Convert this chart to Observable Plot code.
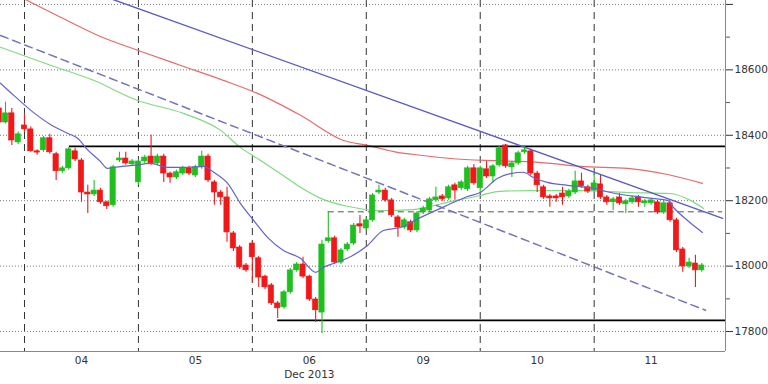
<!DOCTYPE html>
<html><head><meta charset="utf-8">
<script src="https://cdn.jsdelivr.net/npm/d3@7"></script>
<script src="https://cdn.jsdelivr.net/npm/@observablehq/plot@0.6"></script>
<style>
html,body{margin:0;padding:0;background:#fff;}
#chart{width:768px;height:384px;overflow:hidden;}
</style></head><body><div id="chart"></div>
<script>
// Hourly candles, index 0..111 (18 bars per session)
const opens  = [18482,18439,18467,18378,18430,18418,18351,18354,18391,18342,18290,18299,18351,18323,18225,18219,18231,18195,18186,18323,18329,18311,18256,18320,18335,18314,18335,18283,18271,18283,18299,18277,18302,18335,18256,18225,18210,18100,18057,18002,18069,18024,17968,17941,17886,17874,17920,17987,18005,17968,17898,17858,18076,18085,18011,18051,18069,18128,18115,18140,18225,18231,18201,18149,18118,18134,18109,18164,18170,18201,18213,18207,18247,18238,18235,18299,18238,18296,18274,18308,18369,18302,18314,18348,18351,18283,18241,18213,18213,18222,18213,18225,18259,18241,18231,18250,18210,18195,18210,18189,18195,18210,18192,18192,18195,18164,18192,18140,18051,17999,18008,17987];
const highs  = [18495,18501,18482,18410,18467,18425,18356,18396,18403,18348,18305,18363,18360,18329,18247,18262,18238,18198,18308,18348,18348,18326,18326,18339,18400,18342,18342,18287,18293,18305,18305,18308,18351,18342,18262,18231,18241,18106,18063,18008,18076,18030,17972,17947,17892,17926,17993,18011,18027,17972,17904,18079,18167,18091,18054,18072,18130,18155,18146,18222,18247,18238,18207,18155,18146,18140,18167,18183,18210,18241,18219,18247,18253,18262,18305,18311,18305,18320,18311,18369,18372,18320,18351,18369,18357,18290,18247,18219,18219,18241,18235,18290,18284,18247,18281,18278,18216,18210,18222,18204,18213,18216,18204,18207,18201,18198,18198,18146,18057,18024,18033,18008];
const lows   = [18430,18435,18369,18372,18409,18348,18339,18348,18342,18262,18284,18293,18320,18195,18161,18213,18189,18173,18180,18317,18308,18305,18247,18314,18308,18308,18256,18253,18265,18277,18277,18271,18296,18256,18186,18186,18073,18045,17990,17981,17950,17935,17928,17880,17840,17868,17914,17981,17962,17892,17828,17794,18070,18005,18005,18045,18063,18100,18109,18134,18219,18195,18149,18088,18112,18103,18103,18158,18164,18195,18198,18201,18201,18231,18228,18247,18225,18268,18253,18302,18299,18271,18308,18342,18277,18225,18204,18180,18195,18186,18207,18219,18238,18222,18225,18204,18186,18170,18186,18161,18189,18180,18180,18186,18158,18158,18134,18042,17981,17993,17935,17981];
const closes = [18439,18467,18384,18403,18418,18351,18347,18391,18348,18290,18299,18357,18326,18225,18219,18231,18195,18183,18302,18329,18314,18320,18320,18332,18314,18335,18283,18271,18287,18299,18283,18302,18335,18262,18225,18210,18103,18054,17996,17987,18027,17965,17935,17886,17871,17920,17987,18005,17968,17898,17865,18066,18085,18011,18048,18066,18124,18121,18140,18216,18231,18201,18155,18118,18140,18109,18161,18176,18204,18210,18204,18241,18231,18256,18299,18253,18299,18274,18305,18360,18305,18314,18345,18354,18283,18247,18210,18207,18207,18210,18228,18259,18244,18228,18253,18210,18195,18204,18192,18198,18207,18195,18198,18201,18164,18192,18140,18048,17999,18011,17987,18002];

// Session boundaries (first bar of each day) and labels
const dayStarts  = [4, 22, 40, 58, 76, 94];
const dayCenters = [13, 31, 49, 67, 85, 103];
const dayLabels  = ["04", "05", "06", "09", "10", "11"];
const monthLabel = "Dec 2013";
const monthAt    = 49;

// Moving averages (bar index, value)
const maBlueIdx = [0.2,2.3,5.4,8.1,10.8,12.4,13.9,16,17.1,18.1,21.2,23.9,26.6,29.7,32.3,33.9,36.1,38.1,40.2,42.4,44.9,47.6,50,51.2,52.8,55,58.2,60.7,63.4,66.6,70.8,74,76,78.7,80.8,82.8,84.4,86.6,89.8,93.9,96.6,101.8,105.6,106.5,108.7,111.1];
const maBlueVal = [18559,18522,18470,18433,18406,18391,18357,18320,18299,18302,18308,18314,18302,18302,18305,18287,18253,18192,18140,18088,18048,18024,17981,17996,18008,18024,18063,18109,18118,18149,18186,18213,18225,18268,18283,18287,18271,18256,18247,18238,18225,18210,18201,18180,18140,18103];
const maGreenIdx = [0.2,8.1,14.9,21.8,29.1,35,38.1,41.3,44.4,47.6,50.8,55,60.2,65.4,70.8,76,78.7,83.9,91.8,99.3,106,109.2,111.3];
const maGreenVal = [18669,18614,18568,18507,18467,18415,18363,18323,18283,18241,18207,18183,18170,18173,18195,18216,18228,18231,18231,18225,18222,18201,18176];
const maRedIdx = [3.4,9.7,16,22.3,28.6,35.4,40.8,47.6,54.4,58.2,62.9,66.6,71.3,76.8,82.4,87.1,91.8,99.3,105.6,111.1];
const maRedVal = [18822,18761,18702,18657,18614,18568,18528,18461,18384,18369,18348,18339,18329,18323,18320,18314,18305,18299,18280,18253];

// Trend lines (bar index, value)
const trendSolidIdx = [18.0, 114.3];
const trendSolidVal = [18815, 18146];
const trendDashIdx  = [0.21, 111.6];
const trendDashVal  = [18705, 17865];

// Horizontal levels
const levelVals = [18366, 17834];
const levelFrom = [11.1, 44];
const midLevelVal = 18166;
const midLevelFrom = 52;

// Axis ticks
const majorTicks = [17800, 18000, 18200, 18400, 18600, 18800];
const minorTicks = [17900, 18100, 18300, 18500, 18700];

const xDomain = [0.21, 114.75];
const yDomain = [17739, 18812];
const RED = "#f01818", GREEN = "#1fbf1f";

const candles = opens.map((o, i) => ({
  i, open: o, high: highs[i], low: lows[i], close: closes[i],
  col: closes[i] >= o ? GREEN : RED
}));
const pts = (ix, vs) => ix.map((x, k) => ({i: x, v: vs[k]}));
const levels = levelVals.map((v, k) => ({v, from: levelFrom[k], to: xDomain[1]}));
const midLevel = [{v: midLevelVal, from: midLevelFrom, to: 114.3}];
const labelMap = new Map(dayCenters.map((c, k) => [c, dayLabels[k]]));

const chart = Plot.plot({
  width: 768, height: 384,
  marginLeft: 0, marginRight: 43, marginTop: 0, marginBottom: 33,
  style: {fontFamily: "DejaVu Sans, Verdana, sans-serif", fontSize: "10.5px", color: "#333", background: "#fff"},
  x: {domain: xDomain, axis: null},
  y: {domain: yDomain, axis: null},
  color: {type: "identity"},
  marks: [
    Plot.ruleY(majorTicks, {stroke: "#777", strokeDasharray: "1,2", strokeWidth: 1}),
    Plot.ruleX(dayStarts, {stroke: "#333", strokeDasharray: "7,5", strokeWidth: 1}),
    Plot.line(pts(maRedIdx, maRedVal), {x: "i", y: "v", stroke: "#e86a6a", strokeWidth: 1.2, curve: "monotone-x", clip: true}),
    Plot.line(pts(maGreenIdx, maGreenVal), {x: "i", y: "v", stroke: "#7fdb7f", strokeWidth: 1.2, curve: "monotone-x", clip: true}),
    Plot.ruleY(levels, {y: "v", x1: "from", x2: "to", stroke: "#000", strokeWidth: 1.6}),
    Plot.ruleY(midLevel, {y: "v", x1: "from", x2: "to", stroke: "#555", strokeDasharray: "6,4", strokeWidth: 1}),
    Plot.line(pts(trendDashIdx, trendDashVal), {x: "i", y: "v", stroke: "#7474bc", strokeWidth: 1.5, strokeDasharray: "8,5", clip: true}),
    Plot.ruleX(candles, {x: "i", y1: "low", y2: "high", stroke: "col", strokeWidth: 1.1, clip: true}),
    Plot.rect(candles, {x1: d => d.i - 0.42, x2: d => d.i + 0.42, y1: "open", y2: "close", fill: "col", stroke: "col", strokeWidth: 0.6, clip: true}),
    Plot.line(pts(maBlueIdx, maBlueVal), {x: "i", y: "v", stroke: "#6262d2", strokeWidth: 1.2, curve: "monotone-x", clip: true}),
    Plot.line(pts(trendSolidIdx, trendSolidVal), {x: "i", y: "v", stroke: "#5a5ac4", strokeWidth: 1.3, clip: true}),
    Plot.ruleY([yDomain[0]], {stroke: "#888", strokeWidth: 1}),
    Plot.ruleX([xDomain[1]], {stroke: "#888", strokeWidth: 1}),
    Plot.axisY({anchor: "right", ticks: majorTicks, tickSize: 7, tickPadding: 2, tickFormat: d => d === 18800 ? "" : String(d), color: "#333"}),
    Plot.axisY({anchor: "right", ticks: minorTicks, tickSize: 4, tickFormat: () => "", color: "#555"}),
    Plot.axisX({ticks: dayCenters, tickSize: 0, tickPadding: 5, tickFormat: d => labelMap.get(d), color: "#333"}),
    Plot.axisX({ticks: [monthAt], tickSize: 0, tickPadding: 19, tickFormat: () => monthLabel, color: "#333"})
  ]
});
document.getElementById("chart").appendChild(chart);
</script>
</body></html>
